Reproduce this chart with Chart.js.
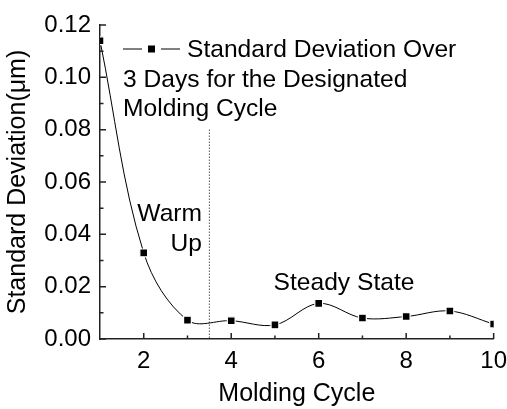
<!DOCTYPE html>
<html>
<head>
<meta charset="utf-8">
<script src="https://cdn.jsdelivr.net/npm/chart.js@4/dist/chart.umd.min.js"></script>
<style>
  html, body { margin: 0; padding: 0; background: #fff; }
  #wrap { width: 507px; height: 409px; }
</style>
</head>
<body>
<div id="wrap"><canvas id="chart"></canvas></div>
<script>
// ==================== data ====================
const cycles = [1, 2, 3, 4, 5, 6, 7, 8, 9, 10];
const stdDev = [0.114, 0.0329, 0.0072, 0.0070, 0.0054, 0.0136, 0.0080, 0.0086, 0.0107, 0.0057];
const xTicks = [2, 4, 6, 8, 10];
const xMinorTicks = [3, 5, 7, 9];
const yTicks = [0, 0.02, 0.04, 0.06, 0.08, 0.10, 0.12];
const yMinorTicks = [0.01, 0.03, 0.05, 0.07, 0.09, 0.11];
const dividerX = [3.5, 3.5];
const dividerY = [0.08, 0];
const legendLines = ['Standard Deviation Over', '3 Days for the Designated', 'Molding Cycle'];

const FONT = '"Liberation Sans", Arial, sans-serif';

// inward ticks, legend block and text labels
const decorPlugin = {
    id: 'decor',
    afterDraw(chart) {
        const ctx = chart.ctx;
        const x = chart.scales.x, y = chart.scales.y;
        const area = chart.chartArea;
        ctx.save();
        ctx.strokeStyle = '#222';
        ctx.lineWidth = 1.5;
        ctx.beginPath();
        yTicks.forEach(v => { const p = y.getPixelForValue(v); ctx.moveTo(area.left, p); ctx.lineTo(area.left + 6, p); });
        yMinorTicks.forEach(v => { const p = y.getPixelForValue(v); ctx.moveTo(area.left, p); ctx.lineTo(area.left + 3.5, p); });
        xTicks.forEach(v => { const p = x.getPixelForValue(v); ctx.moveTo(p, area.bottom); ctx.lineTo(p, area.bottom - 6); });
        xMinorTicks.forEach(v => { const p = x.getPixelForValue(v); ctx.moveTo(p, area.bottom); ctx.lineTo(p, area.bottom - 3.5); });
        ctx.stroke();

        // legend sample
        const lx = 123, ly = 49;
        ctx.strokeStyle = '#000';
        ctx.lineWidth = 1;
        ctx.beginPath();
        ctx.moveTo(lx, ly); ctx.lineTo(lx + 19, ly);
        ctx.moveTo(lx + 38, ly); ctx.lineTo(lx + 57, ly);
        ctx.stroke();
        ctx.fillStyle = '#000';
        ctx.fillRect(lx + 25, ly - 3.5, 7, 7);

        ctx.font = '24.6px ' + FONT;
        ctx.textBaseline = 'middle';
        ctx.textAlign = 'left';
        ctx.fillText(legendLines[0], 187, ly + 1);
        ctx.fillText(legendLines[1], lx, ly + 31);
        ctx.fillText(legendLines[2], lx, ly + 60);

        // annotations
        ctx.textAlign = 'right';
        ctx.fillText('Warm', 202, 214);
        ctx.fillText('Up', 202, 244);
        ctx.textAlign = 'center';
        ctx.fillText('Steady State', 344, 283);
        ctx.restore();
    }
};

new Chart(document.getElementById('chart'), {
    type: 'line',
    data: {
        datasets: [{
            label: 'Standard Deviation',
            data: cycles.map((c, i) => ({ x: c, y: stdDev[i] })),
            borderColor: '#000',
            borderWidth: 1,
            backgroundColor: '#000',
            pointStyle: 'rect',
            pointRadius: 5.5,
            pointBorderColor: '#fff',
            pointBorderWidth: 1.2,
            pointBackgroundColor: '#000',
            tension: 0.35,
            fill: false
        }, {
            label: 'divider',
            data: dividerX.map((v, i) => ({ x: v, y: dividerY[i] })),
            borderColor: '#000',
            borderWidth: 1,
            borderDash: [1, 2],
            pointRadius: 0,
            tension: 0,
            fill: false
        }]
    },
    options: {
        responsive: true,
        maintainAspectRatio: false,
        animation: false,
        events: [],
        layout: { padding: { top: 25, right: 11, left: 0, bottom: 0 } },
        plugins: {
            legend: { display: false },
            tooltip: { enabled: false }
        },
        scales: {
            x: {
                type: 'linear',
                min: 1,
                max: 10,
                afterBuildTicks: s => { s.ticks = xTicks.map(v => ({ value: v })); },
                afterFit: s => { s.height = 70; },
                grid: { display: false },
                border: { display: true, color: '#222', width: 1.5 },
                ticks: { color: '#000', padding: 0, font: { family: FONT, size: 24 } },
                title: {
                    display: true,
                    text: 'Molding Cycle',
                    color: '#000',
                    padding: { top: 8, bottom: 0 },
                    font: { family: FONT, size: 25 }
                }
            },
            y: {
                min: 0,
                max: 0.12,
                afterBuildTicks: s => { s.ticks = yTicks.map(v => ({ value: v })); },
                afterFit: s => { s.width = 100; },
                grid: { display: false },
                border: { display: true, color: '#222', width: 1.5 },
                ticks: {
                    color: '#000',
                    padding: 1,
                    font: { family: FONT, size: 24 },
                    callback: v => v.toFixed(2)
                },
                title: {
                    display: true,
                    text: 'Standard Deviation(\u03bcm)',
                    color: '#000',
                    padding: { top: 3, bottom: 4 },
                    font: { family: FONT, size: 25 }
                }
            }
        }
    },
    plugins: [decorPlugin]
});
</script>
</body>
</html>
